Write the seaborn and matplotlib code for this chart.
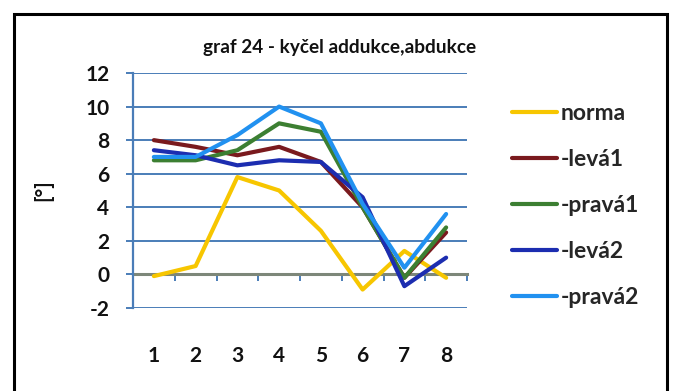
import matplotlib
matplotlib.use("Agg")
import matplotlib.pyplot as plt
from matplotlib.patches import Rectangle
import seaborn as sns
import pandas as pd

# measurements per session
categories = [1, 2, 3, 4, 5, 6, 7, 8]
norma = [-0.1, 0.5, 5.8, 5.0, 2.6, -0.9, 1.4, -0.2]
leva1 = [8.0, 7.6, 7.1, 7.6, 6.7, 4.0, -0.2, 2.5]
prava1 = [6.8, 6.8, 7.4, 9.0, 8.5, 4.0, -0.2, 2.8]
leva2 = [7.4, 7.1, 6.5, 6.8, 6.7, 4.6, -0.7, 1.0]
prava2 = [7.0, 7.0, 8.3, 10.0, 9.0, 4.2, 0.4, 3.6]

series_names = ["norma", "-levá1", "-pravá1", "-levá2", "-pravá2"]
series_values = [norma, leva1, prava1, leva2, prava2]
colors = ["#F7C600", "#7A1A1E", "#3C7F32", "#1C2DB0", "#2191F0"]
yticks = [-2, 0, 2, 4, 6, 8, 10, 12]

rows = []
for name, vals in zip(series_names, series_values):
    for i, v in enumerate(vals):
        rows.append({"pos": i, "value": v, "series": name})
df = pd.DataFrame(rows)

sns.set_theme(style="white")
plt.rcParams["font.family"] = ["Lato", "DejaVu Sans"]
plt.rcParams["font.weight"] = "bold"

W, H = 675, 391
fig = plt.figure(figsize=(W / 100, H / 100), dpi=100)
fig.patch.set_facecolor("white")
ax = fig.add_axes([133 / W, 1 - 308 / H, (467 - 133) / W, (308 - 73) / H])

grid_c = "#4A7DB8"
for y in yticks:
    if y != 0:
        ax.axhline(y, color=grid_c, lw=1.4, zorder=0)

sns.lineplot(data=df, x="pos", y="value", hue="series", palette=colors,
             hue_order=series_names, lw=3.0, ax=ax, legend=False, zorder=3)

ax.set_xlim(-0.5, len(categories) - 0.5)
ax.set_ylim(-2, 12)
ax.set_yticks(yticks)
ax.set_yticklabels([str(t) for t in yticks], fontsize=15, fontweight="bold", color="#111111")
ax.set_xticks(range(len(categories)))
ax.set_xticklabels([str(c) for c in categories], fontsize=15, fontweight="bold", color="#111111")
ax.tick_params(axis="x", length=0, pad=27)
ax.tick_params(axis="y", length=5, width=1.4, color=grid_c, pad=12, left=True, direction="out")
ax.set_xlabel("")
ax.set_ylabel("")

for side in ["top", "right", "bottom"]:
    ax.spines[side].set_visible(False)
ax.spines["left"].set_color(grid_c)
ax.spines["left"].set_linewidth(1.6)

# horizontal category axis through zero
zero_ax = ax.secondary_xaxis(2 / 14)
zero_ax.set_xticks([i + 0.5 for i in range(len(categories))])
zero_ax.set_xticklabels([])
zero_ax.tick_params(length=5, width=1.4, color=grid_c, direction="out")
zero_ax.spines["bottom"].set_color("#7D8779")
zero_ax.spines["bottom"].set_linewidth(2.2)
zero_ax.spines["bottom"].set_zorder(5)

fig.text(340 / W, 1 - 47 / H, "graf 24 - kyčel addukce,abdukce", ha="center", va="center",
         fontsize=13.7, fontweight="bold", color="#111111")
fig.text(43 / W, 1 - 190 / H, "[°]", rotation=90, ha="center", va="center",
         fontsize=15, fontweight="bold", color="#111111")

handles = [plt.Line2D([], [], color=c, lw=3.0) for c in colors]
fig.legend(handles, series_names, loc="upper left", bbox_to_anchor=(491 / W, 1 - 82 / H),
           frameon=False, handlelength=2.0, handletextpad=0.15,
           labelspacing=1.1, prop={"weight": "bold", "size": 16.5})

fig.patches.append(Rectangle((14 / W, -0.05), (667 - 14) / W, 1.05 - 14 / H,
                             transform=fig.transFigure, fill=False, ec="black", lw=2.2))

fig.savefig("out.png", dpi=100)
